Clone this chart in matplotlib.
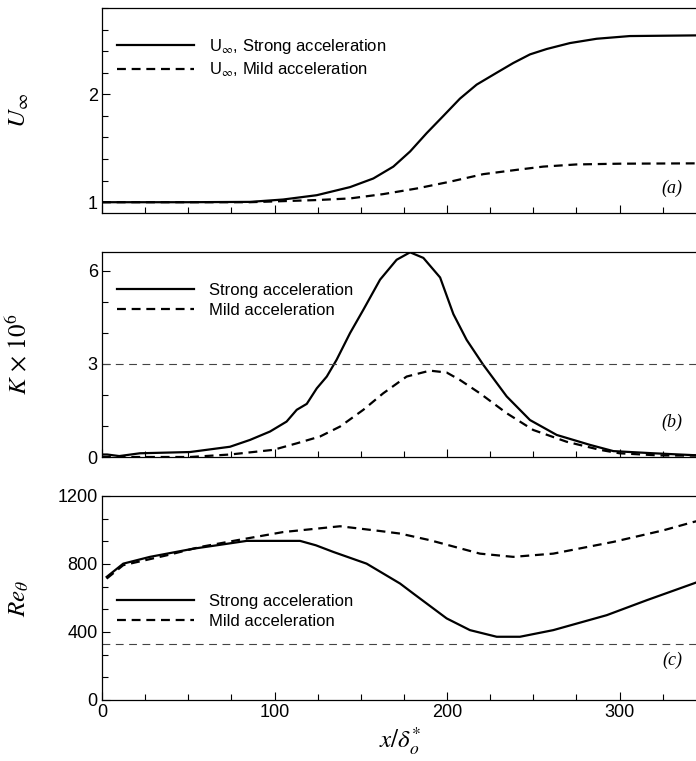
import numpy as np
import matplotlib
matplotlib.use("Agg")
import matplotlib.pyplot as plt
from matplotlib.ticker import MultipleLocator

# ---- data ----
# (a) free-stream velocity
x_u_strong = [0, 50, 85.8, 105, 124.5, 143.8, 157.3, 168.9, 178.6, 188.2, 197.9, 207.5, 217.2,
              228.8, 238.4, 248.1, 257.8, 271.3, 286.8, 306, 344, 360]
u_strong = [1.0, 1.0, 1.003, 1.025, 1.065, 1.14, 1.22, 1.33, 1.47, 1.64, 1.80, 1.96, 2.09,
            2.20, 2.29, 2.37, 2.42, 2.475, 2.515, 2.54, 2.546, 2.546]
x_u_mild = [0, 50, 85.8, 124.5, 143.8, 163, 182.4, 201.7, 221, 240.4, 255.8, 275, 300, 343, 360]
u_mild = [1.0, 1.0, 1.0, 1.02, 1.035, 1.075, 1.127, 1.19, 1.26, 1.30, 1.33, 1.35, 1.357, 1.36, 1.36]

# (b) acceleration parameter K x 10^6
x_k_strong = [0, 3, 10, 22, 51, 74.2, 85.8, 97.4, 107, 112.9, 118.7, 124.5, 130.3, 136, 143.8,
              151.5, 161.2, 170.8, 178.6, 186.3, 196, 203.7, 211.4, 221, 234.6, 248.1, 263.6,
              282.9, 296.4, 319.6, 342.8, 360]
k_strong = [0.08, 0.08, 0.03, 0.12, 0.16, 0.33, 0.55, 0.82, 1.14, 1.52, 1.71, 2.21, 2.59, 3.13, 3.99,
            4.74, 5.71, 6.35, 6.59, 6.41, 5.78, 4.6, 3.77, 2.97, 1.95, 1.19, 0.71,
            0.39, 0.19, 0.12, 0.06, 0.04]
x_k_mild = [0, 51, 74.2, 99.3, 112.9, 126.4, 138, 151.5, 163, 176.6, 190.1, 199.8, 207.5, 219.1,
            234.6, 250, 269.4, 288.7, 300, 323, 360]
k_mild = [0.0, 0.0, 0.08, 0.23, 0.44, 0.66, 0.98, 1.52, 2.05, 2.59, 2.78, 2.72, 2.48, 2.05,
          1.41, 0.87, 0.49, 0.23, 0.12, 0.05, 0.04]
k_ref = 3.0

# (c) momentum-thickness Reynolds number
x_re_strong = [2.7, 12.3, 27.8, 52.9, 66.5, 83.9, 114.8, 124, 134.1, 153.4, 161.2, 172.8, 180.5, 199.8,
               213.3, 228.8, 242.3, 261.6, 292.6, 315.8, 342.8, 360]
re_strong = [724, 802, 842, 890, 910, 936, 936, 910, 871, 802, 755, 685, 626, 480,
             411, 372, 372, 411, 499, 587, 685, 750]
x_re_mild = [2.7, 12.3, 37.5, 56.8, 80, 105.1, 138, 161.2, 172.8, 190.1, 219.1, 238.4, 261.6,
             296.4, 325.4, 342.8, 360]
re_mild = [714, 793, 851, 900, 943, 988, 1022, 994, 979, 940, 861, 842, 861,
           930, 998, 1047, 1090]
re_ref = 330

sans = ["Liberation Sans", "DejaVu Sans"]
serif = ["Liberation Serif", "DejaVu Serif"]
plt.rcParams["font.family"] = sans
plt.rcParams["mathtext.fontset"] = "stix"

fig = plt.figure(figsize=(6.96, 7.61), dpi=100)
left = 102 / 696
width = 621 / 696
ax_a = fig.add_axes([left, 1 - 213 / 761, width, 205 / 761])
ax_b = fig.add_axes([left, 1 - 457 / 761, width, 205 / 761])
ax_c = fig.add_axes([left, 1 - 700 / 761, width, 204 / 761])

solid_kw = dict(color="black", lw=1.6, solid_joinstyle="round")
dash_kw = dict(color="black", lw=1.6, dashes=(4, 2.6))
ref_kw = dict(color="#444444", lw=0.8, dashes=(7, 5))


def style(ax):
    ax.set_xlim(0, 360)
    ax.xaxis.set_major_locator(MultipleLocator(100))
    ax.xaxis.set_minor_locator(MultipleLocator(25))
    ax.tick_params(which="both", direction="in", top=False, right=False,
                   labelsize=13, width=0.8, pad=3)
    ax.tick_params(which="major", length=6)
    ax.tick_params(which="minor", length=4)
    for s in ax.spines.values():
        s.set_linewidth(0.9)


def legend(ax, labels, ytop):
    ax.legend(labels, loc="upper left", bbox_to_anchor=(0.024, ytop), frameon=False,
              fontsize=12, handlelength=4.6, handletextpad=0.9, labelspacing=0.3,
              borderpad=0, borderaxespad=0)


# (a)
ax_a.plot(x_u_strong, u_strong, **solid_kw)
ax_a.plot(x_u_mild, u_mild, **dash_kw)
style(ax_a)
ax_a.set_ylim(0.9, 2.8)
ax_a.yaxis.set_major_locator(MultipleLocator(1))
ax_a.yaxis.set_minor_locator(MultipleLocator(0.2))
ax_a.set_xticklabels([])
ax_a.set_ylabel(r"$U_{\infty}$", fontsize=18)
ax_a.yaxis.set_label_coords(-0.114, 0.5)
legend(ax_a, [r"U$_{\infty}$, Strong acceleration", r"U$_{\infty}$, Mild acceleration"], 0.86)
ax_a.text(0.918, 0.12, "(a)", transform=ax_a.transAxes, ha="center", va="center",
          family=serif, style="italic", fontsize=13)

# (b)
ax_b.plot(x_k_strong, k_strong, **solid_kw)
ax_b.plot(x_k_mild, k_mild, **dash_kw)
ax_b.axhline(k_ref, **ref_kw)
style(ax_b)
ax_b.set_ylim(0, 6.6)
ax_b.yaxis.set_major_locator(MultipleLocator(3))
ax_b.yaxis.set_minor_locator(MultipleLocator(1))
ax_b.set_xticklabels([])
ax_b.set_ylabel(r"$K\,\times\,\mathit{10}^{\mathit{6}}$", fontsize=18)
ax_b.yaxis.set_label_coords(-0.114, 0.5)
legend(ax_b, ["Strong acceleration", "Mild acceleration"], 0.85)
ax_b.text(0.918, 0.17, "(b)", transform=ax_b.transAxes, ha="center", va="center",
          family=serif, style="italic", fontsize=13)

# (c)
ax_c.plot(x_re_strong, re_strong, **solid_kw)
ax_c.plot(x_re_mild, re_mild, **dash_kw)
ax_c.axhline(re_ref, **ref_kw)
style(ax_c)
ax_c.set_ylim(0, 1200)
ax_c.yaxis.set_major_locator(MultipleLocator(400))
ax_c.yaxis.set_minor_locator(MultipleLocator(400 / 3))
ax_c.set_ylabel(r"$Re_{\theta}$", fontsize=18)
ax_c.yaxis.set_label_coords(-0.114, 0.5)
ax_c.set_xlabel(r"$x/\delta^{*}_{o}$", fontsize=18)
ax_c.xaxis.label.set_va("center")
ax_c.xaxis.set_label_coords(0.48, -0.2)
legend(ax_c, ["Strong acceleration", "Mild acceleration"], 0.52)
ax_c.text(0.918, 0.196, "(c)", transform=ax_c.transAxes, ha="center", va="center",
          family=serif, style="italic", fontsize=13)

fig.savefig("out.png", dpi=100)
